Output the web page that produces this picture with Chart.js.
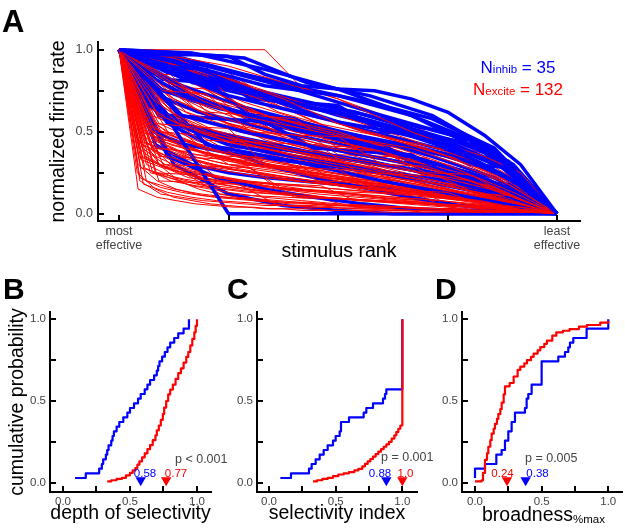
<!DOCTYPE html>
<html>
<head>
<meta charset="utf-8">
<script src="https://cdn.jsdelivr.net/npm/chart.js@4.4.0/dist/chart.umd.min.js"></script>
<style>
  html, body { margin: 0; padding: 0; background: #fff; }
  #wrap { position: relative; width: 625px; height: 530px; overflow: hidden; }
  canvas { position: absolute; }
</style>
</head>
<body>
<div id="wrap">
  <canvas id="chartA" style="left:0;top:0" width="625" height="270"></canvas>
  <canvas id="chartB" style="left:0;top:270px" width="232" height="260"></canvas>
  <canvas id="chartC" style="left:218px;top:270px" width="216" height="260"></canvas>
  <canvas id="chartD" style="left:426px;top:270px" width="199" height="260"></canvas>
</div>
<script>
const FONT = '"Liberation Sans", Arial, Helvetica, sans-serif';
const BLUE = '#0000ff', RED = '#ff0000', INK = '#444444';

// ---- panel A: normalized firing rate per neuron, stimuli in rank order ----
const inhibCurves = [
  [1,.98,.95,.8,.72,.6,.38,0],
  [1,.97,.97,.96,.85,.78,.76,.75,.7,.62,.48,.3,0],
  [1,.9,.78,.72,.6,.42,0],
  [1,.9,.82,.75,.7,.64,.58,.5,.42,.32,.18,0],
  [1,.85,.72,.64,.56,.5,.42,.28,0],
  [1,.42,.32,.2,.1,0],
  [1,.7,.35,0,0,0,0,0,0,0,0,0,0],
  [1,.75,.68,.6,.52,.46,.4,.32,.25,.14,0],
  [1,.92,.86,.8,.74,.7,.66,.62,.56,.5,.44,.36,.22,0],
  [1,.6,.5,.42,.35,.28,.18,0],
  [1,.9,.88,.7,.68,.66,.5,.48,.3,.28,0],
  [1,.55,.42,.36,.3,.25,.2,.12,0],
  [1,.95,.88,.8,.68,.6,.52,.46,.4,.35,.25,0],
  [1,.72,.55,.45,.35,.22,0],
  [1,.65,.55,.5,.46,.42,.38,.35,.32,.28,.24,.2,.15,.08,0],
  [1,.6,.58,.56,.4,.38,.36,.2,.18,0],
  [1,.88,.8,.7,.6,.52,.44,.3,0],
  [1,.82,.7,.64,.58,.53,.48,.44,.4,.35,.28,.18,0],
  [1,.35,.22,.15,.1,.06,.03,.02,.01,0],
  [1,.78,.65,.55,.46,.35,.22,0],
  [1,.6,.5,.45,.4,.36,.32,.28,.24,.18,.1,0],
  [1,.9,.76,.6,.45,0],
  [1,.5,.42,.38,.35,.32,.3,.27,.24,.2,.16,.12,.06,0],
  [1,.82,.8,.6,.58,.45,.43,.25,.22,.1,0],
  [1,.92,.84,.76,.7,.64,.58,.52,.45,.3,0],
  [1,.55,.4,.3,.22,.16,.1,.05,.02,0],
  [1,.8,.7,.62,.5,.3,0],
  [1,.42,.3,.25,.22,.2,.18,.16,.14,.12,.1,.06,0],
  [1,.95,.85,.76,.68,.58,.4,0],
  [1,.72,.62,.56,.5,.45,.4,.35,.3,.22,.12,0],
  [1,.3,.12,.05,.02,0,0,0,0],
  [1,.86,.78,.7,.64,.58,.5,.44,.32,0],
  [1,.62,.48,.42,.38,.34,.3,.26,.2,.12,0],
  [1,.98,.88,.76,.6,.38,0],
  [1,.78,.7,.64,.6,.56,.52,.48,.44,.4,.35,.28,.18,0]
];
const exciteCurves = [
  [1,.35,.28,.22,.2,.18,.15,.13,.12,.1,.09,.08,.07,.06,.05,.04,.03,.02,.01,0],
  [1,.5,.42,.38,.33,.3,.28,.25,.22,.2,.18,.15,.12,.1,.08,.05,.03,0],
  [1,.6,.5,.45,.4,.35,.3,.25,.2,.12,.06,0],
  [1,.2,.12,.1,.08,.07,.06,.05,.05,.04,.04,.03,.03,.03,.02,.02,.02,.01,.01,.01,.01,0],
  [1,.8,.7,.6,.52,.45,.4,.3,.18,0],
  [1,.55,.53,.52,.3,.28,.27,.15,.14,.13,.05,.04,0],
  [1,.7,.55,.5,.45,.4,.37,.33,.3,.25,.2,.15,.08,0],
  [1,.25,.15,.1,.08,.06,.05,.04,.03,.03,.02,.02,.02,.02,.01,.01,.01,.01,.01,.01,.01,.01,.01,.01,0],
  [1,.95,.82,.7,.55,.45,.35,.2,0],
  [1,.4,.38,.2,.19,.18,.17,.08,.07,.06,.05,.02,.01,0],
  [1,.4,.3,.26,.23,.21,.19,.17,.15,.14,.12,.11,.1,.09,.08,.06,.05,.03,.02,0],
  [1,.65,.5,.42,.35,.3,.25,.2,.14,.07,0],
  [1,.9,.75,.6,.45,.3,0],
  [1,.3,.22,.18,.16,.14,.12,.1,.09,.08,.07,.06,.05,.04,.03,.02,0],
  [1,.75,.73,.5,.48,.47,.3,.29,.2,.1,0],
  [1,.15,.1,.08,.06,.05,.04,.04,.03,.03,.03,.02,.02,.02,.02,.02,.01,.01,.01,.01,.01,.01,.01,0],
  [1,.75,.6,.5,.42,.36,.3,.22,.12,0],
  [1,.42,.35,.3,.28,.26,.24,.22,.2,.18,.16,.14,.12,.1,.08,.06,.04,.02,0],
  [1,.85,.7,.6,.55,.5,.45,.4,.32,.22,.12,0],
  [1,.3,.29,.28,.1,.09,.08,.07,.02,.01,0],
  [1,1,1,1,1,.77,.7,.6,.5,.42,.35,.25,0],
  [1,.5,.4,.35,.3,.27,.24,.2,.17,.14,.1,.07,.04,0],
  [1,.65,.55,.48,.43,.4,.36,.33,.3,.26,.22,.18,.14,.1,.05,0],
  [1,.5,.3,.2,.15,.12,.1,.09,.08,.07,.06,.05,.05,.04,.04,.03,.03,.02,.02,.01,.01,.01,0],
  [1,.9,.62,.6,.58,.4,.38,.25,.24,.1,0],
  [1,.9,.8,.72,.62,.55,.48,.4,.3,.18,0],
  [1,.28,.2,.17,.15,.13,.12,.11,.1,.09,.08,.07,.06,.05,.04,.03,.02,0],
  [1,.45,.35,.3,.27,.24,.2,.17,.14,.11,.08,.04,0],
  [1,.55,.45,.4,.36,.33,.3,.28,.26,.24,.22,.2,.18,.16,.14,.12,.09,.06,.03,0],
  [1,.7,.5,.38,.22,0],
  [1,.65,.45,.44,.43,.42,.25,.24,.23,.12,.11,0],
  [1,.5,.38,.3,.25,.2,.15,.1,.05,0],
  [1,.6,.5,.45,.4,.37,.34,.31,.28,.26,.24,.22,.2,.18,.16,.14,.12,.1,.08,.05,.03,0],
  [1,.95,.85,.75,.62,.55,.5,.45,.4,.35,.2,0],
  [1,.2,.15,.12,.1,.08,.07,.06,.05,.04,.04,.03,.03,.02,.02,.01,0],
  [1,.8,.62,.55,.5,.45,.4,.36,.32,.28,.24,.18,.1,0],
  [1,.5,.48,.35,.34,.2,.19,.18,.06,.05,.04,0],
  [1,.55,.4,.32,.25,.17,.09,0],
  [1,.45,.35,.3,.26,.24,.22,.2,.19,.18,.17,.16,.15,.14,.13,.12,.11,.1,.09,.08,.07,.06,.04,.02,0],
  [1,.4,.3,.25,.2,.18,.15,.12,.08,.04,0],
  [1,.75,.6,.52,.46,.42,.38,.35,.32,.29,.26,.23,.2,.15,.08,0],
  [1,.25,.17,.13,.1,.08,.06,.05,.04,.03,.02,.01,0],
  [1,.85,.84,.6,.42,.41,.4,.22,.21,.08,0],
  [1,.85,.7,.55,.45,.38,.3,.18,0],
  [1,.45,.3,.22,.18,.15,.13,.11,.1,.09,.08,.07,.06,.05,.04,.03,.02,0],
  [1,.7,.58,.5,.44,.38,.33,.28,.22,.16,.08,0],
  [1,.33,.28,.25,.23,.21,.19,.18,.17,.16,.15,.14,.13,.12,.11,.1,.08,.06,.04,.02,0],
  [1,.8,.6,.5,.35,.2,0],
  [1,.2,.19,.18,.05,.04,.03,.02,.02,.01,.01,0],
  [1,.3,.2,.15,.12,.1,.09,.08,.07,.06,.06,.05,.05,.04,.04,.04,.03,.03,.02,.02,.02,.01,.01,0],
  [1,.92,.82,.7,.6,.5,.42,.33,.2,0],
  [1,.55,.45,.38,.33,.3,.27,.24,.21,.19,.17,.15,.12,.1,.07,.04,0],
  [1,.38,.28,.22,.18,.15,.13,.11,.09,.07,.05,.04,.02,0],
  [1,.7,.58,.5,.46,.42,.39,.36,.33,.31,.28,.26,.23,.2,.17,.14,.1,.06,0],
  [1,.78,.65,.55,.48,.42,.36,.3,.24,.15,0],
  [1,.22,.16,.13,.11,.1,.09,.08,.07,.07,.06,.05,.05,.04,.04,.03,.03,.02,.02,.01,.01,0],
  [1,.45,.44,.3,.29,.28,.27,.26,.12,.11,.1,.03,0],
  [1,.4,.32,.28,.25,.22,.2,.18,.16,.14,.12,.1,.08,.06,.03,0],
  [1,.9,.78,.65,.55,.45,.35,0],
  [1,.48,.38,.33,.3,.27,.25,.23,.21,.19,.17,.16,.14,.13,.11,.09,.07,.05,.02,0],
  [1,.3,.22,.18,.15,.12,.1,.08,.06,.04,.02,0],
  [1,.6,.48,.42,.38,.35,.32,.29,.27,.25,.23,.21,.19,.16,.13,.1,.06,0],
  [1,.7,.55,.48,.4,.33,.25,.14,0],
  [1,.4,.3,.25,.22,.2,.18,.17,.16,.15,.14,.13,.12,.11,.1,.09,.08,.07,.06,.05,.03,.02,0],
  [1,.88,.75,.65,.58,.52,.47,.42,.38,.33,.28,.22,.14,0],
  [1,.25,.2,.16,.14,.12,.1,.09,.08,.07,.06,.05,.03,.02,0],
  [1,.65,.5,.42,.35,.28,.22,.15,.08,0],
  [1,.52,.44,.4,.37,.34,.32,.3,.28,.26,.24,.22,.2,.18,.16,.14,.12,.1,.07,.04,0],
  [1,.82,.7,.62,.55,.5,.46,.42,.39,.36,.33,.3,.26,.22,.16,.09,0],
  [1,.48,.36,.3,.26,.22,.18,.14,.1,.05,0],
  [1,.18,.13,.1,.08,.07,.06,.05,.05,.04,.04,.03,.03,.02,.02,.01,.01,.01,0],
  [1,.92,.8,.68,.58,.5,.44,.38,.32,.26,.2,.12,0],
  [1,.58,.46,.4,.36,.32,.29,.26,.23,.2,.17,.14,.11,.08,.04,0],
  [1,.65,.45,.32,.2,.1,0],
  [1,.62,.45,.38,.33,.3,.27,.25,.23,.21,.19,.18,.17,.15,.14,.13,.12,.1,.09,.08,.06,.04,.02,0],
  [1,.55,.44,.38,.33,.28,.24,.2,.16,.12,.06,0],
  [1,.35,.27,.23,.2,.18,.16,.14,.13,.12,.1,.09,.08,.07,.05,.04,.02,0],
  [1,.78,.62,.52,.44,.36,.28,.16,0],
  [1,.72,.6,.54,.5,.46,.43,.4,.37,.34,.31,.28,.25,.22,.19,.16,.13,.09,.05,0],
  [1,.45,.36,.31,.27,.24,.21,.18,.15,.12,.09,.06,.03,0],
  [1,.92,.85,.78,.66,.55,.46,.38,.3,.22,.14,0],
  [1,.88,.72,.64,.56,.48,.42,.35,.3,.24,.18,.12,.06,0],
  [1,.75,.66,.6,.55,.5,.44,.38,.3,.2,0],
  [1,.96,.9,.8,.7,.58,.45,.3,0],
  [1,.68,.58,.52,.47,.43,.39,.35,.31,.27,.23,.19,.15,.11,.07,.03,0],
  [1,.5,.46,.42,.38,.35,.32,.29,.26,.24,.22,.2,.18,.16,.14,.12,.1,.08,.06,.04,.02,0],
  [1,.85,.78,.7,.62,.56,.5,.45,.4,.34,.27,.2,.1,0],
  [1,.58,.5,.44,.38,.33,.28,.22,.16,.1,.05,0],
  [1,.42,.38,.34,.3,.27,.24,.21,.18,.15,.12,.09,.06,.03,0],
  [1,.8,.68,.6,.52,.44,.36,.26,.14,0],
  [1,.62,.56,.5,.45,.41,.37,.33,.3,.27,.24,.21,.18,.15,.12,.09,.06,.03,0],
  [1,.9,.84,.76,.68,.62,.56,.5,.44,.38,.3,.2,.1,.04,0],
  [1,.28,.24,.21,.19,.17,.15,.13,.11,.1,.09,.08,.07,.06,.05,.04,.03,.02,.01,.01,0],
  [1,.72,.64,.57,.5,.44,.38,.32,.26,.2,.14,.08,.03,0],
  [1,.55,.48,.43,.39,.35,.32,.29,.26,.23,.2,.17,.14,.11,.08,.05,.02,0],
  [1,.98,.92,.86,.72,.6,.5,.42,.35,.28,.2,.12,0],
  [1,.66,.54,.47,.41,.36,.32,.28,.24,.2,.16,.12,.08,.04,0],
  [1,.45,.4,.36,.33,.3,.28,.26,.24,.22,.2,.18,.16,.14,.12,.1,.08,.06,.05,.04,.03,.02,.01,0],
  [1,.85,.62,.52,.44,.38,.32,.26,.2,.14,.08,0],
  [1,.35,.3,.27,.24,.22,.2,.18,.16,.15,.14,.13,.12,.1,.09,.08,.07,.05,.04,.03,.02,.01,0],
  [1,.6,.42,.4,.39,.22,.21,.2,.1,.09,.02,0],
  [1,.35,.34,.33,.15,.14,.13,.12,.05,.04,.03,0],
  [1,.78,.76,.55,.54,.36,.35,.34,.18,.17,0],
  [1,.52,.36,.35,.34,.33,.18,.17,.16,.06,.05,.02,0],
  [1,.25,.24,.12,.11,.1,.09,.04,.03,.02,.02,.01,.01,0]
];
const rankTicks = [0, 0.25, 0.5, 0.75, 1];
const probTicks = [0, 0.25, 0.5, 0.75, 1];
const unitTicks = [0, 0.25, 0.5, 0.75, 1];

// ---- panel B: depth of selectivity ----
const depthInhib = [0.09,0.17,0.27,0.29,0.30,0.32,0.33,0.34,0.36,0.37,0.38,0.40,0.42,0.45,0.48,0.50,0.53,0.56,0.58,0.61,
  0.63,0.65,0.68,0.70,0.71,0.72,0.74,0.76,0.78,0.80,0.83,0.86,0.90,0.94,0.94];
const depthExciteX = [0.33,0.36,0.40,0.44,0.47,0.50,0.52,0.54,0.555,0.57,0.59,0.61,0.63,0.65,0.67,0.69,0.70,0.715,
  0.73,0.745,0.755,0.77,0.785,0.80,0.82,0.84,0.86,0.88,0.90,0.92,0.935,0.95,0.965,0.98,0.99,1.0];
const depthExciteY = [0.008,0.015,0.023,0.03,0.045,0.06,0.075,0.09,0.11,0.13,0.155,0.18,0.205,0.23,0.26,0.29,0.32,0.35,
  0.385,0.42,0.46,0.5,0.54,0.57,0.6,0.635,0.67,0.70,0.735,0.77,0.80,0.84,0.88,0.92,0.96,1.0];
const depthMedians = [0.58, 0.77];

// ---- panel C: selectivity index ----
const siInhib = [0.085,0.165,0.30,0.32,0.35,0.38,0.41,0.44,0.48,0.50,0.53,0.54,0.54,0.60,0.71,0.73,0.78,0.855,0.87,0.88,
  1,1,1,1,1,1,1,1,1,1,1,1,1,1,1];
const siExciteX = [0.33,0.36,0.40,0.44,0.48,0.52,0.56,0.60,0.64,0.67,0.70,0.72,0.74,0.76,0.78,0.80,0.82,0.84,0.86,0.88,
  0.90,0.92,0.94,0.955,0.97,0.985,1.0,1.0];
const siExciteY = [0.008,0.015,0.023,0.03,0.04,0.05,0.057,0.065,0.075,0.085,0.10,0.115,0.13,0.145,0.16,0.175,0.19,0.205,
  0.22,0.235,0.25,0.27,0.29,0.31,0.33,0.35,0.36,1.0];
const siMedians = [0.88, 1.0];

// ---- panel D: broadness (%max) ----
const broadInhib = [0,0,0,0.075,0.16,0.16,0.2,0.225,0.225,0.25,0.25,0.275,0.275,0.30,0.30,0.375,0.3875,0.3875,0.40,
  0.425,0.425,0.5,0.5,0.5,0.5,0.5,0.625,0.675,0.70,0.7125,0.7375,0.8375,0.8375,1.0,1.0];
const broadExciteX = [0.0,0.05,0.06,0.075,0.09,0.10,0.115,0.125,0.14,0.15,0.165,0.175,0.19,0.20,0.215,0.225,0.26,0.29,
  0.32,0.34,0.37,0.39,0.42,0.44,0.47,0.49,0.52,0.54,0.58,0.61,0.66,0.71,0.78,0.84,0.94,1.0];
const broadExciteY = [0.008,0.015,0.06,0.14,0.18,0.22,0.26,0.30,0.33,0.36,0.39,0.42,0.45,0.49,0.54,0.59,0.61,0.65,
  0.69,0.71,0.73,0.75,0.77,0.79,0.81,0.83,0.85,0.87,0.90,0.92,0.93,0.94,0.955,0.965,0.98,0.99];
const broadMedians = [0.38, 0.24];

const MARK_Y = 0.015;

function rankPoints(ys) { return ys.map((y, i) => ({ x: i / (ys.length - 1), y })); }
function ecdf(vals) { return vals.map((v, i) => ({ x: v, y: (i + 1) / vals.length })); }
function pairs(xs, ys) { return xs.map((x, i) => ({ x, y: ys[i] })); }

// inward tick marks, like the original axes
const innerTicks = {
  id: 'innerTicks',
  afterDraw(chart) {
    const { ctx, chartArea: a } = chart;
    const xs = chart.scales.x, ys = chart.scales.y;
    ctx.save();
    ctx.strokeStyle = '#000';
    ctx.lineWidth = 2;
    xs.ticks.forEach(t => {
      const px = Math.round(xs.getPixelForValue(t.value));
      ctx.beginPath(); ctx.moveTo(px, a.bottom); ctx.lineTo(px, a.bottom - 6); ctx.stroke();
    });
    ys.ticks.forEach(t => {
      const py = Math.round(ys.getPixelForValue(t.value));
      ctx.beginPath(); ctx.moveTo(a.left, py); ctx.lineTo(a.left + 6, py); ctx.stroke();
    });
    ctx.restore();
  }
};

// free text: panel letters, counts, medians, p values
const notes = {
  id: 'notes',
  afterDraw(chart, args, opts) {
    const ctx = chart.ctx;
    (opts.items || []).forEach(it => {
      ctx.save();
      ctx.textBaseline = 'alphabetic';
      const fonts = it.segs.map(s => (s.bold ? 'bold ' : '') + s.size + 'px ' + FONT);
      const widths = it.segs.map((s, i) => { ctx.font = fonts[i]; return ctx.measureText(s.t).width; });
      const total = widths.reduce((a, b) => a + b, 0);
      let x = it.x;
      if (it.align === 'center') x -= total / 2;
      it.segs.forEach((s, i) => {
        ctx.font = fonts[i];
        ctx.fillStyle = it.color;
        ctx.fillText(s.t, x, it.y + (s.dy || 0));
        x += widths[i];
      });
      ctx.restore();
    });
  }
};
Chart.register(innerTicks, notes);

function linScale(o) {
  return {
    type: 'linear', min: o.min, max: o.max,
    afterBuildTicks: s => { s.ticks = o.ticks.map(v => ({ value: v })); },
    afterFit: s => {
      if (s.isHorizontal()) s.height = o.size; else s.width = o.size;
      s.paddingLeft = s.paddingRight = s.paddingTop = s.paddingBottom = 0;
    },
    grid: { display: true, drawOnChartArea: false, drawTicks: false, color: 'rgba(0,0,0,0)' },
    border: { display: true, color: '#000', width: 2 },
    ticks: { autoSkip: false, maxRotation: 0, padding: o.pad, color: INK,
      font: { family: FONT, size: o.fontSize, lineHeight: o.lineHeight || 1.2 }, callback: o.label },
    title: o.title
      ? { display: true, text: o.title, color: '#000', font: { family: FONT, size: 19.5 }, padding: o.titlePad }
      : { display: false }
  };
}

const halfLabels = v => (v === 0 || v === 0.5 || v === 1) ? v.toFixed(1) : '';

function makeChart(id, datasets, scales, padding, items) {
  return new Chart(document.getElementById(id), {
    type: 'line',
    data: { datasets },
    options: {
      responsive: false, animation: false, events: [],
      layout: { padding, autoPadding: false },
      plugins: { legend: { display: false }, tooltip: { enabled: false }, notes: { items } },
      elements: { point: { radius: 0 }, line: { tension: 0, borderJoinStyle: 'round' } },
      scales
    }
  });
}

// ---- A ----
// thin red traces interleaved with the thick blue ones so both show on top somewhere
const aSets = [];
const perBlue = Math.ceil(exciteCurves.length / inhibCurves.length);
inhibCurves.forEach((ys, i) => {
  aSets.push({ data: rankPoints(ys), borderColor: BLUE, borderWidth: 3.5 });
  exciteCurves.slice(i * perBlue, (i + 1) * perBlue).forEach(r =>
    aSets.push({ data: rankPoints(r), borderColor: RED, borderWidth: 1 }));
});

makeChart('chartA', aSets, {
  x: linScale({ min: -0.048, max: 1.0525, ticks: rankTicks, size: 49, pad: 4.4, fontSize: 12.5, lineHeight: 1.05,
    label: v => v === 0 ? ['most', 'effective'] : v === 1 ? ['least', 'effective'] : '',
    title: 'stimulus rank', titlePad: { bottom: 7 } }),
  y: linScale({ min: -0.0445, max: 1.047, ticks: probTicks, size: 98, pad: 5, fontSize: 12.5,
    label: halfLabels, title: 'normalized firing rate', titlePad: { top: 47 } })
}, { left: 0, right: 45, top: 42, bottom: 0 }, [
  { segs: [{ t: 'A', size: 31, bold: true }], x: 2, y: 32, color: '#000' },
  { segs: [{ t: 'N', size: 17 }, { t: 'inhib', size: 11.5 }, { t: ' = 35', size: 17 }], x: 518, y: 73, color: BLUE, align: 'center' },
  { segs: [{ t: 'N', size: 17 }, { t: 'excite', size: 11.5 }, { t: ' = 132', size: 17 }], x: 518, y: 95, color: RED, align: 'center' }
]);

// ---- B, C, D: cumulative distributions ----
function cdfSets(inhibVals, exX, exY, medians) {
  return [
    { data: medians.map(m => ({ x: m, y: MARK_Y })), showLine: false, pointStyle: 'triangle', rotation: 180,
      pointRadius: 6, pointBorderWidth: 0, pointBackgroundColor: [BLUE, RED] },
    { data: pairs(exX, exY), borderColor: RED, borderWidth: 2.2, stepped: true },
    { data: ecdf(inhibVals), borderColor: BLUE, borderWidth: 2.2, stepped: true }
  ];
}
const yProb = (size, title) => linScale({ min: -0.057, max: 1.0447, ticks: probTicks, size, pad: 4, fontSize: 11.5,
  label: halfLabels, title, titlePad: { top: 5.8 } });
const xUnit = (min, max, title) => linScale({ min, max, ticks: unitTicks, size: 38, pad: 3, fontSize: 11.5,
  label: halfLabels, title, titlePad: { bottom: 4.3 } });

makeChart('chartB', cdfSets(depthInhib, depthExciteX, depthExciteY, depthMedians), {
  x: xUnit(-0.097, 1.1045, 'depth of selectivity'),
  y: yProb(50, 'cumulative probability')
}, { left: 0, right: 21, top: 42, bottom: 0 }, [
  { segs: [{ t: 'B', size: 30, bold: true }], x: 3, y: 29, color: '#000' },
  { segs: [{ t: 'p < 0.001', size: 12.5 }], x: 175, y: 193, color: INK },
  { segs: [{ t: '0.58', size: 11.5 }], x: 145, y: 207, color: BLUE, align: 'center' },
  { segs: [{ t: '0.77', size: 11.5 }], x: 176, y: 207, color: RED, align: 'center' }
]);

makeChart('chartC', cdfSets(siInhib, siExciteX, siExciteY, siMedians), {
  x: xUnit(-0.09, 1.11, 'selectivity index'),
  y: yProb(39, null)
}, { left: 0, right: 17, top: 42, bottom: 0 }, [
  { segs: [{ t: 'C', size: 30, bold: true }], x: 9, y: 29, color: '#000' },
  { segs: [{ t: 'p = 0.001', size: 12.5 }], x: 163, y: 191, color: INK },
  { segs: [{ t: '0.88', size: 11.5 }], x: 162, y: 207, color: BLUE, align: 'center' },
  { segs: [{ t: '1.0', size: 11.5 }], x: 187.5, y: 207, color: RED, align: 'center' }
]);

makeChart('chartD', cdfSets(broadInhib, broadExciteX, broadExciteY, broadMedians), {
  x: xUnit(-0.0975, 1.103, null),
  y: yProb(36, null)
}, { left: 0, right: 3, top: 42, bottom: 0 }, [
  { segs: [{ t: 'D', size: 30, bold: true }], x: 9, y: 29, color: '#000' },
  { segs: [{ t: 'p = 0.005', size: 12.5 }], x: 99, y: 192, color: INK },
  { segs: [{ t: '0.24', size: 11.5 }], x: 76.5, y: 207, color: RED, align: 'center' },
  { segs: [{ t: '0.38', size: 11.5 }], x: 111.5, y: 207, color: BLUE, align: 'center' },
  { segs: [{ t: 'broadness', size: 19.5 }, { t: '%max', size: 11.5, dy: 2 }], x: 117.5, y: 251, color: '#000', align: 'center' }
]);
</script>
</body>
</html>
